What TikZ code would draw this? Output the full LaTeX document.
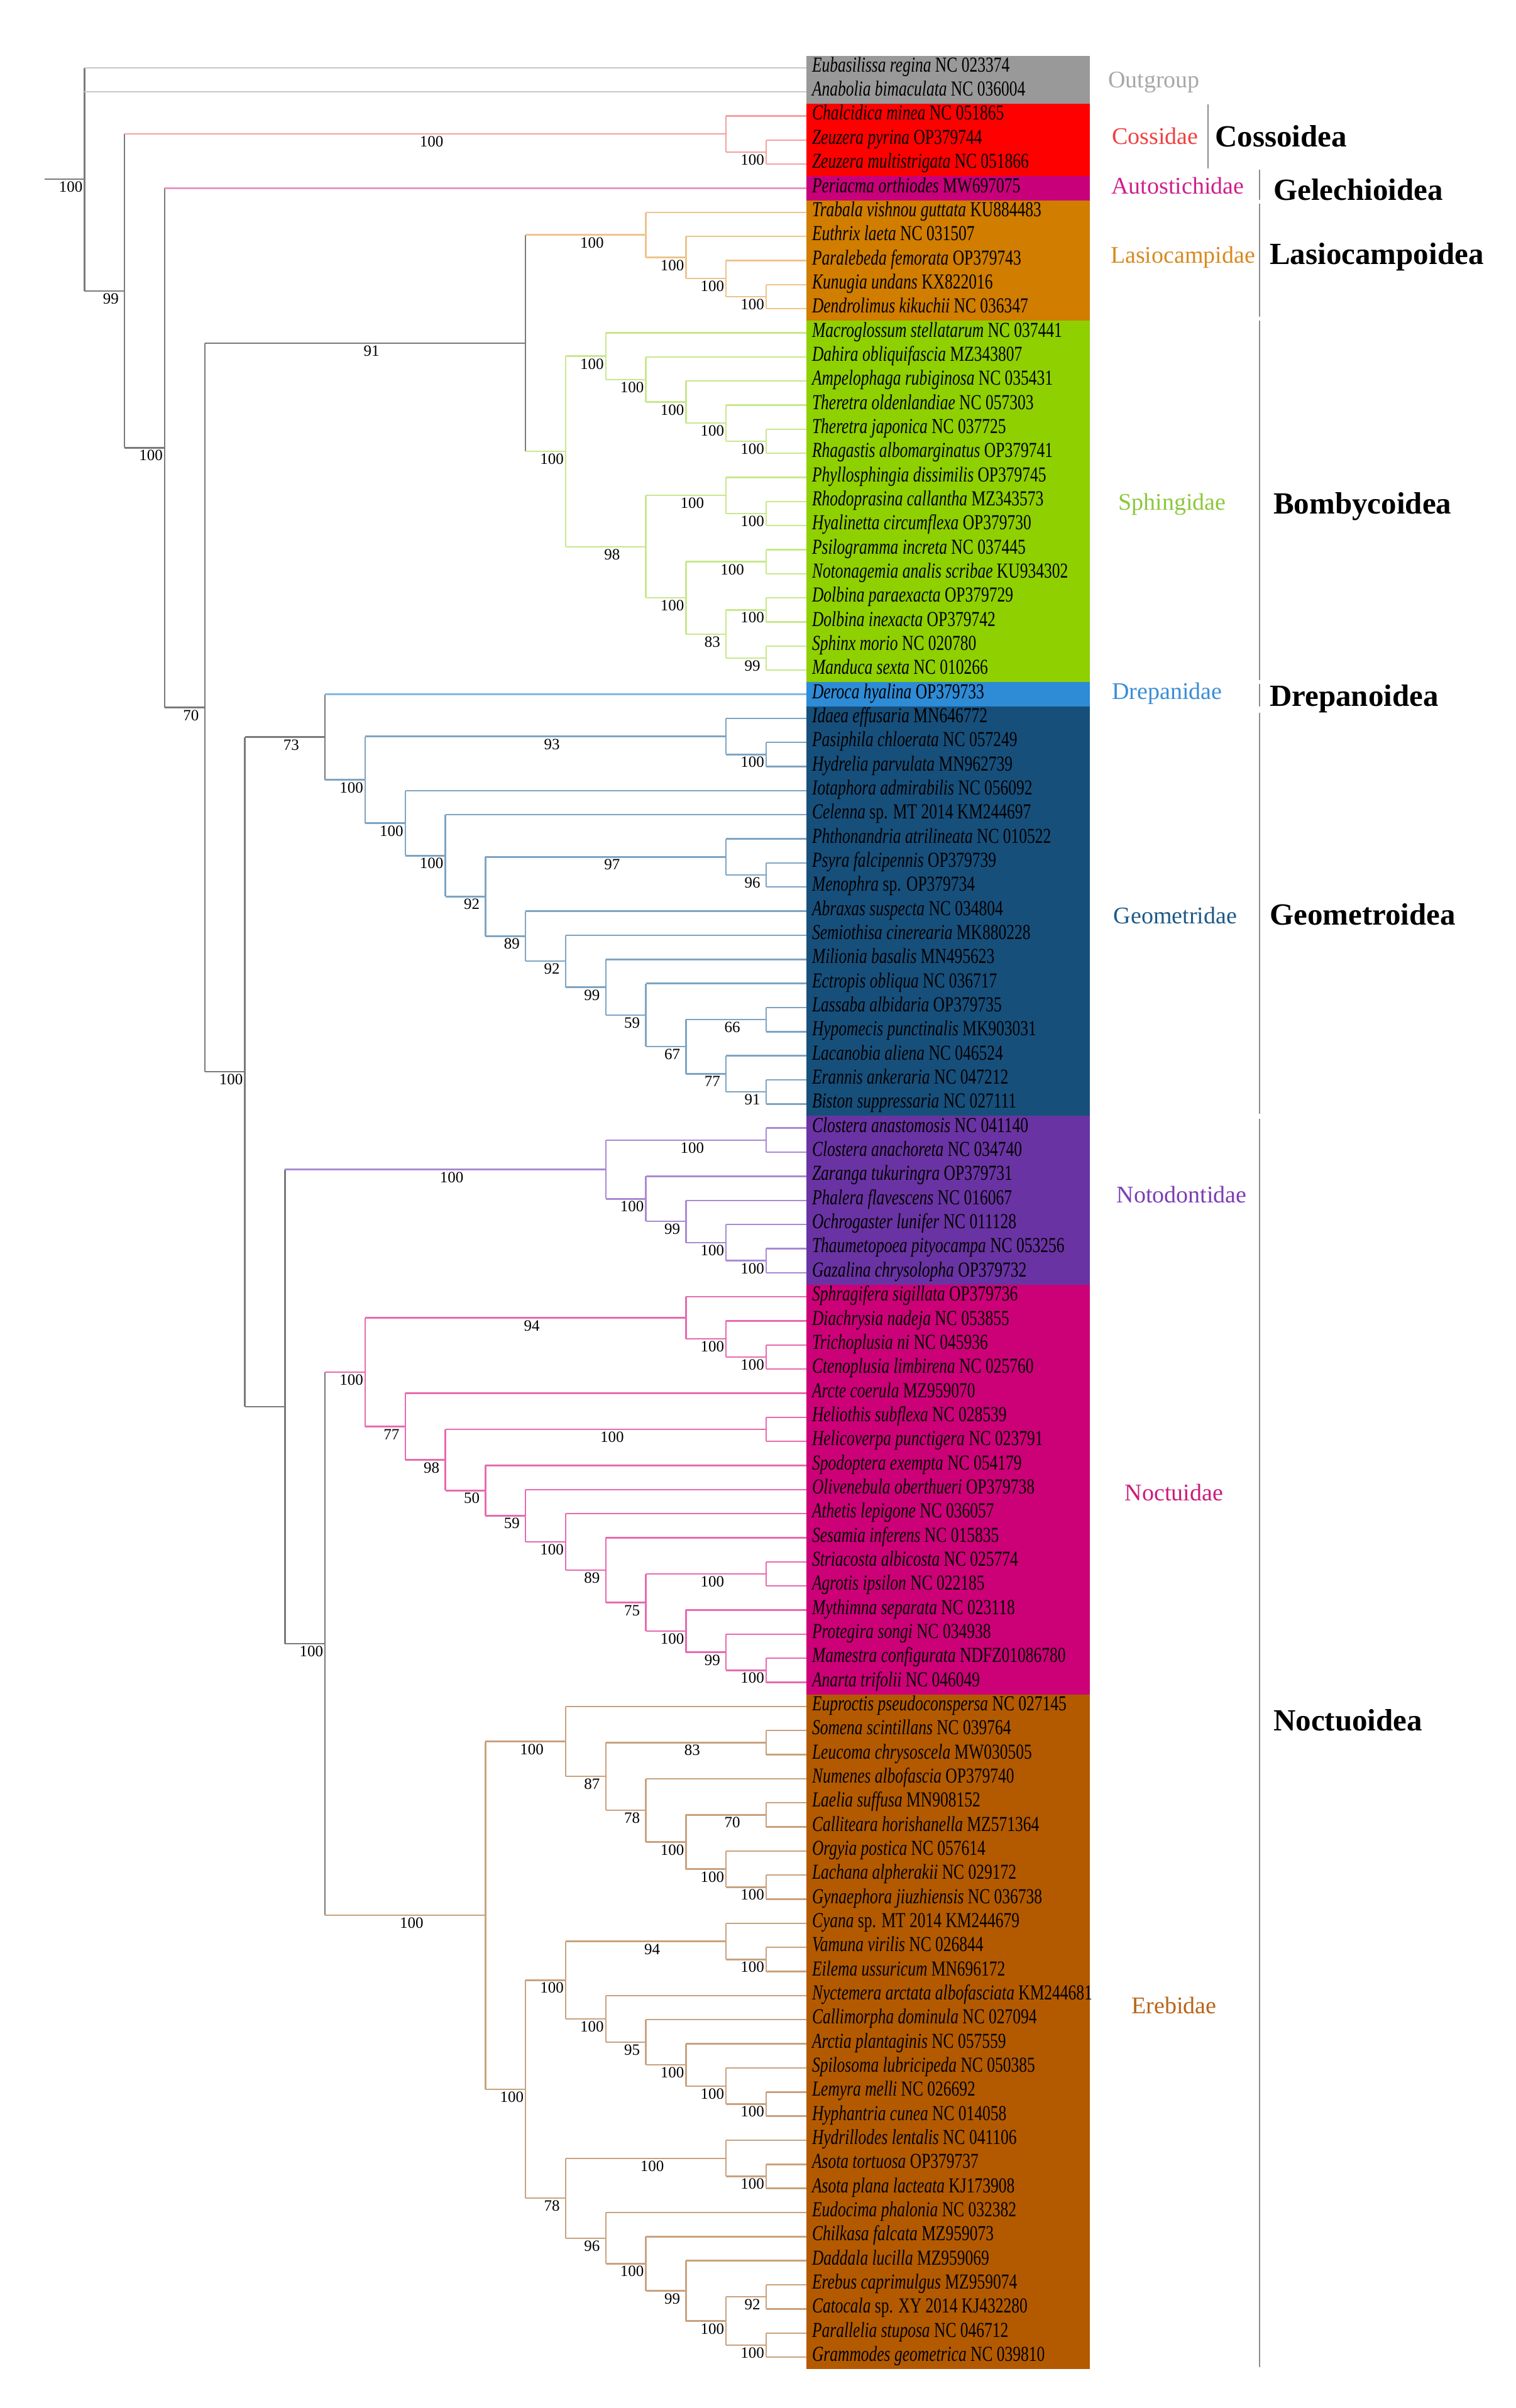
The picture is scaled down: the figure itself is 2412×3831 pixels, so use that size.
\documentclass[tikz,border=0pt]{standalone}
\usepackage{fontspec}
\setmainfont{Liberation Serif}
\newfontfamily\leaffont{Liberation Serif}[FakeStretch=0.75]
\usetikzlibrary{calc}
% branch colours
\definecolor{cBB}{HTML}{7A7A7A}
\definecolor{cOut}{HTML}{C8C8C8}
\definecolor{cCos}{HTML}{F4A0A0}
\definecolor{cAut}{HTML}{E696C8}
\definecolor{cLas}{HTML}{EEC48C}
\definecolor{cSph}{HTML}{C8E88C}
\definecolor{cDre}{HTML}{7DB9E8}
\definecolor{cGeo}{HTML}{7EA4C2}
\definecolor{cNot}{HTML}{A98AD3}
\definecolor{cNoc}{HTML}{E86AAE}
\definecolor{cEre}{HTML}{C9A27E}
% band colours
\definecolor{bOut}{HTML}{999999}
\definecolor{bCos}{HTML}{FF0000}
\definecolor{bAut}{HTML}{C8007A}
\definecolor{bLas}{HTML}{D07D00}
\definecolor{bSph}{HTML}{8FD000}
\definecolor{bDre}{HTML}{2E8BD6}
\definecolor{bGeo}{HTML}{174F7B}
\definecolor{bNot}{HTML}{6A33A3}
\definecolor{bNoc}{HTML}{CC0077}
\definecolor{bEre}{HTML}{B35A00}
% family label colours
\definecolor{tOut}{HTML}{A8A8A8}
\definecolor{tCos}{HTML}{F04040}
\definecolor{tAut}{HTML}{D0208A}
\definecolor{tLas}{HTML}{D88A20}
\definecolor{tSph}{HTML}{8CC83C}
\definecolor{tDre}{HTML}{3A8ED8}
\definecolor{tGeo}{HTML}{1E5A88}
\definecolor{tNot}{HTML}{7B3FB5}
\definecolor{tNoc}{HTML}{CC1C7C}
\definecolor{tEre}{HTML}{B8651A}
\definecolor{brkgray}{HTML}{8C8C8C}

\newcommand\mkleaf[3]{\node[leaflab] (T#1) at (L#1) {\textit{#2} #3};}
\newcommand\mkband[3]{\fill[#1] ($(L#2)+(0,19.2)$) rectangle ($(L#3)+(451.2,-19.2)$);}
\newcommand\mkclade[5]{%
  \coordinate (#1m) at ($(#3)!0.5!(#4)$);
  \coordinate (#1) at (Lv#2 |- #1m);
  \draw[tr,#5] (#1 |- #3) -- (#1 |- #4);}
\newcommand\mkbr[4]{%
  \draw[tr,#1] (#2 |- #3) -- (#3);
  \if\relax\detokenize{#4}\relax\else
  \node[bslab] at ($(#2 |- #3)!0.5!(#3)$) {#4};\fi}

\begin{document}
\begin{tikzpicture}[x=1pt,y=1pt,
  tr/.style={line width=2.4pt},
  leaflab/.style={anchor=base west,inner sep=0pt,xshift=9pt,yshift=-6.6pt,
    font=\leaffont\fontsize{34}{36}\selectfont,text=black},
  bslab/.style={anchor=base,inner sep=0pt,xshift=10pt,yshift=-20.5pt,
    font=\fontsize{25}{26}\selectfont,text=black},
  fam/.style={anchor=base,inner sep=0pt,font=\fontsize{38}{40}\selectfont},
  sup/.style={anchor=base west,inner sep=0pt,font=\bfseries\fontsize{49}{52}\selectfont},
  brk/.style={draw=brkgray,line width=2.2pt}]
\useasboundingbox (0,0) rectangle (2412,-3831);
\fill[white] (0,0) rectangle (2412,-3831);

\foreach \k in {0,...,18} \coordinate (Lv\k) at ({134.4+63.8*\k},0);
\coordinate (Lvm1) at (70.6,0);
\foreach \i in {1,...,96} \coordinate (L\i) at (1282.8,{-107.7-38.34*(\i-1)});

% ---------------- tree ----------------
% Cossidae
\mkclade{c1}{17}{L4}{L5}{cCos}
\mkbr{cCos}{c1}{L4}{}\mkbr{cCos}{c1}{L5}{}
\mkclade{cos}{16}{L3}{c1}{cCos}
\mkbr{cCos}{cos}{L3}{}\mkbr{cCos}{cos}{c1}{100}
% Lasiocampidae
\mkclade{la4}{17}{L10}{L11}{cLas}
\mkbr{cLas}{la4}{L10}{}\mkbr{cLas}{la4}{L11}{}
\mkclade{la3}{16}{L9}{la4}{cLas}
\mkbr{cLas}{la3}{L9}{}\mkbr{cLas}{la3}{la4}{100}
\mkclade{la2}{15}{L8}{la3}{cLas}
\mkbr{cLas}{la2}{L8}{}\mkbr{cLas}{la2}{la3}{100}
\mkclade{las}{14}{L7}{la2}{cLas}
\mkbr{cLas}{las}{L7}{}\mkbr{cLas}{las}{la2}{100}
% Sphingidae
\mkclade{s5}{17}{L16}{L17}{cSph}
\mkbr{cSph}{s5}{L16}{}\mkbr{cSph}{s5}{L17}{}
\mkclade{s4}{16}{L15}{s5}{cSph}
\mkbr{cSph}{s4}{L15}{}\mkbr{cSph}{s4}{s5}{100}
\mkclade{s3}{15}{L14}{s4}{cSph}
\mkbr{cSph}{s3}{L14}{}\mkbr{cSph}{s3}{s4}{100}
\mkclade{s2}{14}{L13}{s3}{cSph}
\mkbr{cSph}{s2}{L13}{}\mkbr{cSph}{s2}{s3}{100}
\mkclade{sA}{13}{L12}{s2}{cSph}
\mkbr{cSph}{sA}{L12}{}\mkbr{cSph}{sA}{s2}{100}
\mkclade{sBa}{17}{L19}{L20}{cSph}
\mkbr{cSph}{sBa}{L19}{}\mkbr{cSph}{sBa}{L20}{}
\mkclade{sB}{16}{L18}{sBa}{cSph}
\mkbr{cSph}{sB}{L18}{}\mkbr{cSph}{sB}{sBa}{100}
\mkclade{sCa}{17}{L21}{L22}{cSph}
\mkbr{cSph}{sCa}{L21}{}\mkbr{cSph}{sCa}{L22}{}
\mkclade{sDa}{17}{L23}{L24}{cSph}
\mkbr{cSph}{sDa}{L23}{}\mkbr{cSph}{sDa}{L24}{}
\mkclade{sDb}{17}{L25}{L26}{cSph}
\mkbr{cSph}{sDb}{L25}{}\mkbr{cSph}{sDb}{L26}{}
\mkclade{sD}{16}{sDa}{sDb}{cSph}
\mkbr{cSph}{sD}{sDa}{100}\mkbr{cSph}{sD}{sDb}{99}
\mkclade{sC}{15}{sCa}{sD}{cSph}
\mkbr{cSph}{sC}{sCa}{100}\mkbr{cSph}{sC}{sD}{83}
\mkclade{sE}{14}{sB}{sC}{cSph}
\mkbr{cSph}{sE}{sB}{100}\mkbr{cSph}{sE}{sC}{100}
\mkclade{sph}{12}{sA}{sE}{cSph}
\mkbr{cSph}{sph}{sA}{100}\mkbr{cSph}{sph}{sE}{98}
\mkclade{b11}{11}{las}{sph}{cBB}
\mkbr{cLas}{b11}{las}{100}\mkbr{cSph}{b11}{sph}{100}
% Geometridae
\mkclade{g1a}{17}{L29}{L30}{cGeo}
\mkbr{cGeo}{g1a}{L29}{}\mkbr{cGeo}{g1a}{L30}{}
\mkclade{g1}{16}{L28}{g1a}{cGeo}
\mkbr{cGeo}{g1}{L28}{}\mkbr{cGeo}{g1}{g1a}{100}
\mkclade{g3a}{17}{L34}{L35}{cGeo}
\mkbr{cGeo}{g3a}{L34}{}\mkbr{cGeo}{g3a}{L35}{}
\mkclade{g3}{16}{L33}{g3a}{cGeo}
\mkbr{cGeo}{g3}{L33}{}\mkbr{cGeo}{g3}{g3a}{96}
\mkclade{gq}{17}{L40}{L41}{cGeo}
\mkbr{cGeo}{gq}{L40}{}\mkbr{cGeo}{gq}{L41}{}
\mkclade{gra}{17}{L43}{L44}{cGeo}
\mkbr{cGeo}{gra}{L43}{}\mkbr{cGeo}{gra}{L44}{}
\mkclade{gr}{16}{L42}{gra}{cGeo}
\mkbr{cGeo}{gr}{L42}{}\mkbr{cGeo}{gr}{gra}{91}
\mkclade{g15}{15}{gq}{gr}{cGeo}
\mkbr{cGeo}{g15}{gq}{66}\mkbr{cGeo}{g15}{gr}{77}
\mkclade{g14}{14}{L39}{g15}{cGeo}
\mkbr{cGeo}{g14}{L39}{}\mkbr{cGeo}{g14}{g15}{67}
\mkclade{g13}{13}{L38}{g14}{cGeo}
\mkbr{cGeo}{g13}{L38}{}\mkbr{cGeo}{g13}{g14}{59}
\mkclade{g12}{12}{L37}{g13}{cGeo}
\mkbr{cGeo}{g12}{L37}{}\mkbr{cGeo}{g12}{g13}{99}
\mkclade{g11}{11}{L36}{g12}{cGeo}
\mkbr{cGeo}{g11}{L36}{}\mkbr{cGeo}{g11}{g12}{92}
\mkclade{g10}{10}{g3}{g11}{cGeo}
\mkbr{cGeo}{g10}{g3}{97}\mkbr{cGeo}{g10}{g11}{89}
\mkclade{g9}{9}{L32}{g10}{cGeo}
\mkbr{cGeo}{g9}{L32}{}\mkbr{cGeo}{g9}{g10}{92}
\mkclade{g8}{8}{L31}{g9}{cGeo}
\mkbr{cGeo}{g8}{L31}{}\mkbr{cGeo}{g8}{g9}{100}
\mkclade{geo}{7}{g1}{g8}{cGeo}
\mkbr{cGeo}{geo}{g1}{93}\mkbr{cGeo}{geo}{g8}{100}
\mkclade{d6}{6}{L27}{geo}{cBB}
\mkbr{cDre}{d6}{L27}{}\mkbr{cGeo}{d6}{geo}{100}
% Notodontidae
\mkclade{n1}{17}{L45}{L46}{cNot}
\mkbr{cNot}{n1}{L45}{}\mkbr{cNot}{n1}{L46}{}
\mkclade{n4}{17}{L50}{L51}{cNot}
\mkbr{cNot}{n4}{L50}{}\mkbr{cNot}{n4}{L51}{}
\mkclade{n3}{16}{L49}{n4}{cNot}
\mkbr{cNot}{n3}{L49}{}\mkbr{cNot}{n3}{n4}{100}
\mkclade{n2}{15}{L48}{n3}{cNot}
\mkbr{cNot}{n2}{L48}{}\mkbr{cNot}{n2}{n3}{100}
\mkclade{nb}{14}{L47}{n2}{cNot}
\mkbr{cNot}{nb}{L47}{}\mkbr{cNot}{nb}{n2}{99}
\mkclade{ntd}{13}{n1}{nb}{cNot}
\mkbr{cNot}{ntd}{n1}{100}\mkbr{cNot}{ntd}{nb}{100}
% Noctuidae
\mkclade{qa}{17}{L54}{L55}{cNoc}
\mkbr{cNoc}{qa}{L54}{}\mkbr{cNoc}{qa}{L55}{}
\mkclade{qb}{16}{L53}{qa}{cNoc}
\mkbr{cNoc}{qb}{L53}{}\mkbr{cNoc}{qb}{qa}{100}
\mkclade{qc}{15}{L52}{qb}{cNoc}
\mkbr{cNoc}{qc}{L52}{}\mkbr{cNoc}{qc}{qb}{100}
\mkclade{q2}{17}{L57}{L58}{cNoc}
\mkbr{cNoc}{q2}{L57}{}\mkbr{cNoc}{q2}{L58}{}
\mkclade{q3}{17}{L63}{L64}{cNoc}
\mkbr{cNoc}{q3}{L63}{}\mkbr{cNoc}{q3}{L64}{}
\mkclade{q4a}{17}{L67}{L68}{cNoc}
\mkbr{cNoc}{q4a}{L67}{}\mkbr{cNoc}{q4a}{L68}{}
\mkclade{q4b}{16}{L66}{q4a}{cNoc}
\mkbr{cNoc}{q4b}{L66}{}\mkbr{cNoc}{q4b}{q4a}{100}
\mkclade{q4}{15}{L65}{q4b}{cNoc}
\mkbr{cNoc}{q4}{L65}{}\mkbr{cNoc}{q4}{q4b}{99}
\mkclade{q14}{14}{q3}{q4}{cNoc}
\mkbr{cNoc}{q14}{q3}{100}\mkbr{cNoc}{q14}{q4}{100}
\mkclade{q13}{13}{L62}{q14}{cNoc}
\mkbr{cNoc}{q13}{L62}{}\mkbr{cNoc}{q13}{q14}{75}
\mkclade{q12}{12}{L61}{q13}{cNoc}
\mkbr{cNoc}{q12}{L61}{}\mkbr{cNoc}{q12}{q13}{89}
\mkclade{q11}{11}{L60}{q12}{cNoc}
\mkbr{cNoc}{q11}{L60}{}\mkbr{cNoc}{q11}{q12}{100}
\mkclade{q10}{10}{L59}{q11}{cNoc}
\mkbr{cNoc}{q10}{L59}{}\mkbr{cNoc}{q10}{q11}{59}
\mkclade{q9}{9}{q2}{q10}{cNoc}
\mkbr{cNoc}{q9}{q2}{100}\mkbr{cNoc}{q9}{q10}{50}
\mkclade{q8}{8}{L56}{q9}{cNoc}
\mkbr{cNoc}{q8}{L56}{}\mkbr{cNoc}{q8}{q9}{98}
\mkclade{noc}{7}{qc}{q8}{cNoc}
\mkbr{cNoc}{noc}{qc}{94}\mkbr{cNoc}{noc}{q8}{77}
% Erebidae
\mkclade{e1a}{17}{L70}{L71}{cEre}
\mkbr{cEre}{e1a}{L70}{}\mkbr{cEre}{e1a}{L71}{}
\mkclade{e2a}{17}{L73}{L74}{cEre}
\mkbr{cEre}{e2a}{L73}{}\mkbr{cEre}{e2a}{L74}{}
\mkclade{e2b}{17}{L76}{L77}{cEre}
\mkbr{cEre}{e2b}{L76}{}\mkbr{cEre}{e2b}{L77}{}
\mkclade{e2c}{16}{L75}{e2b}{cEre}
\mkbr{cEre}{e2c}{L75}{}\mkbr{cEre}{e2c}{e2b}{100}
\mkclade{e2}{15}{e2a}{e2c}{cEre}
\mkbr{cEre}{e2}{e2a}{70}\mkbr{cEre}{e2}{e2c}{100}
\mkclade{e14}{14}{L72}{e2}{cEre}
\mkbr{cEre}{e14}{L72}{}\mkbr{cEre}{e14}{e2}{100}
\mkclade{e13}{13}{e1a}{e14}{cEre}
\mkbr{cEre}{e13}{e1a}{83}\mkbr{cEre}{e13}{e14}{78}
\mkclade{lym}{12}{L69}{e13}{cEre}
\mkbr{cEre}{lym}{L69}{}\mkbr{cEre}{lym}{e13}{87}
\mkclade{a1a}{17}{L79}{L80}{cEre}
\mkbr{cEre}{a1a}{L79}{}\mkbr{cEre}{a1a}{L80}{}
\mkclade{a1}{16}{L78}{a1a}{cEre}
\mkbr{cEre}{a1}{L78}{}\mkbr{cEre}{a1}{a1a}{100}
\mkclade{a2a}{17}{L85}{L86}{cEre}
\mkbr{cEre}{a2a}{L85}{}\mkbr{cEre}{a2a}{L86}{}
\mkclade{a2b}{16}{L84}{a2a}{cEre}
\mkbr{cEre}{a2b}{L84}{}\mkbr{cEre}{a2b}{a2a}{100}
\mkclade{a2c}{15}{L83}{a2b}{cEre}
\mkbr{cEre}{a2c}{L83}{}\mkbr{cEre}{a2c}{a2b}{100}
\mkclade{a2d}{14}{L82}{a2c}{cEre}
\mkbr{cEre}{a2d}{L82}{}\mkbr{cEre}{a2d}{a2c}{100}
\mkclade{a2}{13}{L81}{a2d}{cEre}
\mkbr{cEre}{a2}{L81}{}\mkbr{cEre}{a2}{a2d}{95}
\mkclade{arc}{12}{a1}{a2}{cEre}
\mkbr{cEre}{arc}{a1}{94}\mkbr{cEre}{arc}{a2}{100}
\mkclade{h1a}{17}{L88}{L89}{cEre}
\mkbr{cEre}{h1a}{L88}{}\mkbr{cEre}{h1a}{L89}{}
\mkclade{h1}{16}{L87}{h1a}{cEre}
\mkbr{cEre}{h1}{L87}{}\mkbr{cEre}{h1}{h1a}{100}
\mkclade{h2a}{17}{L93}{L94}{cEre}
\mkbr{cEre}{h2a}{L93}{}\mkbr{cEre}{h2a}{L94}{}
\mkclade{h2b}{17}{L95}{L96}{cEre}
\mkbr{cEre}{h2b}{L95}{}\mkbr{cEre}{h2b}{L96}{}
\mkclade{h2c}{16}{h2a}{h2b}{cEre}
\mkbr{cEre}{h2c}{h2a}{92}\mkbr{cEre}{h2c}{h2b}{100}
\mkclade{h2d}{15}{L92}{h2c}{cEre}
\mkbr{cEre}{h2d}{L92}{}\mkbr{cEre}{h2d}{h2c}{100}
\mkclade{h2e}{14}{L91}{h2d}{cEre}
\mkbr{cEre}{h2e}{L91}{}\mkbr{cEre}{h2e}{h2d}{99}
\mkclade{h2}{13}{L90}{h2e}{cEre}
\mkbr{cEre}{h2}{L90}{}\mkbr{cEre}{h2}{h2e}{100}
\mkclade{hyp}{12}{h1}{h2}{cEre}
\mkbr{cEre}{hyp}{h1}{100}\mkbr{cEre}{hyp}{h2}{96}
\mkclade{e11}{11}{arc}{hyp}{cEre}
\mkbr{cEre}{e11}{arc}{100}\mkbr{cEre}{e11}{hyp}{78}
\mkclade{ere}{10}{lym}{e11}{cEre}
\mkbr{cEre}{ere}{lym}{100}\mkbr{cEre}{ere}{e11}{100}
% backbone
\mkclade{b6}{6}{noc}{ere}{cBB}
\mkbr{cNoc}{b6}{noc}{100}\mkbr{cEre}{b6}{ere}{100}
\mkclade{b5}{5}{ntd}{b6}{cBB}
\mkbr{cNot}{b5}{ntd}{100}\mkbr{cBB}{b5}{b6}{100}
\mkclade{b4}{4}{d6}{b5}{cBB}
\mkbr{cBB}{b4}{d6}{73}\mkbr{cBB}{b4}{b5}{}
\mkclade{b3}{3}{b11}{b4}{cBB}
\mkbr{cBB}{b3}{b11}{91}\mkbr{cBB}{b3}{b4}{100}
\mkclade{b2}{2}{L6}{b3}{cBB}
\mkbr{cAut}{b2}{L6}{}\mkbr{cBB}{b2}{b3}{70}
\mkclade{ing}{1}{cos}{b2}{cBB}
\mkbr{cCos}{ing}{cos}{100}\mkbr{cBB}{ing}{b2}{100}
\mkclade{root}{0}{L1}{ing}{cBB}
\mkbr{cOut}{root}{L1}{}\mkbr{cOut}{root}{L2}{}\mkbr{cBB}{root}{ing}{99}
\coordinate (stub) at (Lvm1 |- root);
\mkbr{cBB}{stub}{root}{100}

% ---------------- bands ----------------
\mkband{bOut}{1}{2}
\mkband{bCos}{3}{5}
\mkband{bAut}{6}{6}
\mkband{bLas}{7}{11}
\mkband{bSph}{12}{26}
\mkband{bDre}{27}{27}
\mkband{bGeo}{28}{44}
\mkband{bNot}{45}{51}
\mkband{bNoc}{52}{68}
\mkband{bEre}{69}{96}

% ---------------- leaf labels ----------------
\mkleaf{1}{Eubasilissa regina}{NC 023374}
\mkleaf{2}{Anabolia bimaculata}{NC 036004}
\mkleaf{3}{Chalcidica minea}{NC 051865}
\mkleaf{4}{Zeuzera pyrina}{OP379744}
\mkleaf{5}{Zeuzera multistrigata}{NC 051866}
\mkleaf{6}{Periacma orthiodes}{MW697075}
\mkleaf{7}{Trabala vishnou guttata}{KU884483}
\mkleaf{8}{Euthrix laeta}{NC 031507}
\mkleaf{9}{Paralebeda femorata}{OP379743}
\mkleaf{10}{Kunugia undans}{KX822016}
\mkleaf{11}{Dendrolimus kikuchii}{NC 036347}
\mkleaf{12}{Macroglossum stellatarum}{NC 037441}
\mkleaf{13}{Dahira obliquifascia}{MZ343807}
\mkleaf{14}{Ampelophaga rubiginosa}{NC 035431}
\mkleaf{15}{Theretra oldenlandiae}{NC 057303}
\mkleaf{16}{Theretra japonica}{NC 037725}
\mkleaf{17}{Rhagastis albomarginatus}{OP379741}
\mkleaf{18}{Phyllosphingia dissimilis}{OP379745}
\mkleaf{19}{Rhodoprasina callantha}{MZ343573}
\mkleaf{20}{Hyalinetta circumflexa}{OP379730}
\mkleaf{21}{Psilogramma increta}{NC 037445}
\mkleaf{22}{Notonagemia analis scribae}{KU934302}
\mkleaf{23}{Dolbina paraexacta}{OP379729}
\mkleaf{24}{Dolbina inexacta}{OP379742}
\mkleaf{25}{Sphinx morio}{NC 020780}
\mkleaf{26}{Manduca sexta}{NC 010266}
\mkleaf{27}{Deroca hyalina}{OP379733}
\mkleaf{28}{Idaea effusaria}{MN646772}
\mkleaf{29}{Pasiphila chloerata}{NC 057249}
\mkleaf{30}{Hydrelia parvulata}{MN962739}
\mkleaf{31}{Iotaphora admirabilis}{NC 056092}
\mkleaf{32}{Celenna}{sp. MT 2014 KM244697}
\mkleaf{33}{Phthonandria atrilineata}{NC 010522}
\mkleaf{34}{Psyra falcipennis}{OP379739}
\mkleaf{35}{Menophra}{sp. OP379734}
\mkleaf{36}{Abraxas suspecta}{NC 034804}
\mkleaf{37}{Semiothisa cinerearia}{MK880228}
\mkleaf{38}{Milionia basalis}{MN495623}
\mkleaf{39}{Ectropis obliqua}{NC 036717}
\mkleaf{40}{Lassaba albidaria}{OP379735}
\mkleaf{41}{Hypomecis punctinalis}{MK903031}
\mkleaf{42}{Lacanobia aliena}{NC 046524}
\mkleaf{43}{Erannis ankeraria}{NC 047212}
\mkleaf{44}{Biston suppressaria}{NC 027111}
\mkleaf{45}{Clostera anastomosis}{NC 041140}
\mkleaf{46}{Clostera anachoreta}{NC 034740}
\mkleaf{47}{Zaranga tukuringra}{OP379731}
\mkleaf{48}{Phalera flavescens}{NC 016067}
\mkleaf{49}{Ochrogaster lunifer}{NC 011128}
\mkleaf{50}{Thaumetopoea pityocampa}{NC 053256}
\mkleaf{51}{Gazalina chrysolopha}{OP379732}
\mkleaf{52}{Sphragifera sigillata}{OP379736}
\mkleaf{53}{Diachrysia nadeja}{NC 053855}
\mkleaf{54}{Trichoplusia ni}{NC 045936}
\mkleaf{55}{Ctenoplusia limbirena}{NC 025760}
\mkleaf{56}{Arcte coerula}{MZ959070}
\mkleaf{57}{Heliothis subflexa}{NC 028539}
\mkleaf{58}{Helicoverpa punctigera}{NC 023791}
\mkleaf{59}{Spodoptera exempta}{NC 054179}
\mkleaf{60}{Olivenebula oberthueri}{OP379738}
\mkleaf{61}{Athetis lepigone}{NC 036057}
\mkleaf{62}{Sesamia inferens}{NC 015835}
\mkleaf{63}{Striacosta albicosta}{NC 025774}
\mkleaf{64}{Agrotis ipsilon}{NC 022185}
\mkleaf{65}{Mythimna separata}{NC 023118}
\mkleaf{66}{Protegira songi}{NC 034938}
\mkleaf{67}{Mamestra configurata}{NDFZ01086780}
\mkleaf{68}{Anarta trifolii}{NC 046049}
\mkleaf{69}{Euproctis pseudoconspersa}{NC 027145}
\mkleaf{70}{Somena scintillans}{NC 039764}
\mkleaf{71}{Leucoma chrysoscela}{MW030505}
\mkleaf{72}{Numenes albofascia}{OP379740}
\mkleaf{73}{Laelia suffusa}{MN908152}
\mkleaf{74}{Calliteara horishanella}{MZ571364}
\mkleaf{75}{Orgyia postica}{NC 057614}
\mkleaf{76}{Lachana alpherakii}{NC 029172}
\mkleaf{77}{Gynaephora jiuzhiensis}{NC 036738}
\mkleaf{78}{Cyana}{sp. MT 2014 KM244679}
\mkleaf{79}{Vamuna virilis}{NC 026844}
\mkleaf{80}{Eilema ussuricum}{MN696172}
\mkleaf{81}{Nyctemera arctata albofasciata}{KM244681}
\mkleaf{82}{Callimorpha dominula}{NC 027094}
\mkleaf{83}{Arctia plantaginis}{NC 057559}
\mkleaf{84}{Spilosoma lubricipeda}{NC 050385}
\mkleaf{85}{Lemyra melli}{NC 026692}
\mkleaf{86}{Hyphantria cunea}{NC 014058}
\mkleaf{87}{Hydrillodes lentalis}{NC 041106}
\mkleaf{88}{Asota tortuosa}{OP379737}
\mkleaf{89}{Asota plana lacteata}{KJ173908}
\mkleaf{90}{Eudocima phalonia}{NC 032382}
\mkleaf{91}{Chilkasa falcata}{MZ959073}
\mkleaf{92}{Daddala lucilla}{MZ959069}
\mkleaf{93}{Erebus caprimulgus}{MZ959074}
\mkleaf{94}{Catocala}{sp. XY 2014 KJ432280}
\mkleaf{95}{Parallelia stuposa}{NC 046712}
\mkleaf{96}{Grammodes geometrica}{NC 039810}

% ---------------- family labels ----------------
\node[fam,text=tOut] (fOut) at (1836,-139.6) {Outgroup};
\node[fam,text=tCos] (fCos) at (1838,-229.6) {Cossidae};
\node[fam,text=tAut] (fAut) at (1874,-308.6) {Autostichidae};
\node[fam,text=tLas] (fLas) at (1882,-418.3) {Lasiocampidae};
\node[fam,text=tSph] (fSph) at (1865,-811.6) {Sphingidae};
\node[fam,text=tDre] (fDre) at (1857,-1112.6) {Drepanidae};
\node[fam,text=tGeo] (fGeo) at (1870,-1469.6) {Geometridae};
\node[fam,text=tNot] (fNot) at (1880,-1913.6) {Notodontidae};
\node[fam,text=tNoc] (fNoc) at (1868,-2387.6) {Noctuidae};
\node[fam,text=tEre] (fEre) at (1868,-3203.3) {Erebidae};

% ---------------- superfamily brackets ----------------
\draw[brk] (1922,-166) -- (1922,-268);
\draw[brk] (2004,-270) -- (2004,-318);
\draw[brk] (2004,-324) -- (2004,-504);
\draw[brk] (2004,-510) -- (2004,-1082);
\draw[brk] (2004,-1088) -- (2004,-1124);
\draw[brk] (2004,-1134) -- (2004,-1772);
\draw[brk] (2004,-1780) -- (2004,-3766);
\node[sup] (sCos) at (1933,-233.2) {Cossoidea};
\node[sup] (sGel) at (2026,-318.2) {Gelechioidea};
\node[sup] (sLas) at (2020,-420.2) {Lasiocampoidea};
\node[sup] (sBom) at (2026,-817.2) {Bombycoidea};
\node[sup] (sDre) at (2020,-1123.2) {Drepanoidea};
\node[sup] (sGeo) at (2020,-1471.2) {Geometroidea};
\node[sup] (sNoc) at (2026,-2753.2) {Noctuoidea};
\end{tikzpicture}
\end{document}
